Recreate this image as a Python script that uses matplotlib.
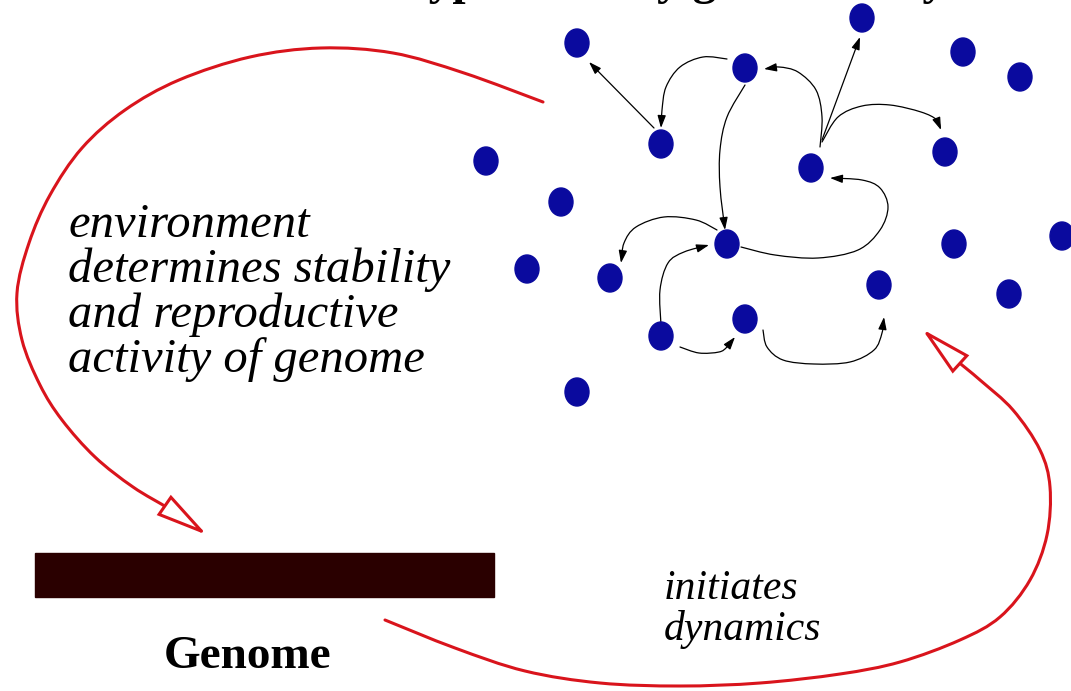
import matplotlib
matplotlib.use("Agg")
import matplotlib.pyplot as plt
import numpy as np
from matplotlib.patches import Ellipse, FancyArrowPatch, Rectangle
from matplotlib.path import Path

# gene nodes (pixel coordinates, y grows downward)
NODE_X = [577, 862, 963, 1020, 745, 661, 811, 945, 486, 561,
          727, 954, 1062, 527, 610, 879, 1009, 745, 661, 577]
NODE_Y = [43, 18, 52, 77, 68, 144, 168, 152, 161, 202,
          244, 244, 236, 269, 278, 285, 294, 319, 336, 392]

# regulatory links: waypoints from source to arrow tip
EDGE_6_1 = [(654, 128), (589, 62)]
EDGE_5_6 = [(727, 59), (703, 57), (680, 67), (666, 87), (662, 110), (661, 128)]
EDGE_7_5 = [(820, 147), (822, 117), (816, 90), (798, 72), (779, 67), (764, 69)]
EDGE_7_2 = [(822, 140), (860, 37)]
EDGE_7_8 = [(822, 142), (838, 117), (862, 106), (890, 105), (921, 112), (937, 120), (941, 130)]
EDGE_5_11 = [(745, 85), (727, 117), (720, 150), (720, 187), (725, 230)]
EDGE_11_15 = [(717, 230), (696, 220), (664, 217), (636, 227), (624, 243), (621, 263)]
EDGE_11_7 = [(741, 247), (775, 255), (818, 258), (858, 250), (880, 230), (888, 207),
             (880, 188), (862, 180), (830, 178)]
EDGE_19_11 = [(661, 325), (660, 290), (668, 263), (684, 252), (709, 245)]
EDGE_19_18 = [(680, 347), (699, 353), (719, 352), (727, 347), (735, 337)]
EDGE_18_16 = [(763, 330), (767, 347), (783, 360), (814, 364), (850, 362), (874, 350),
              (882, 333), (884, 317)]
EDGES = [EDGE_6_1, EDGE_5_6, EDGE_7_5, EDGE_7_2, EDGE_7_8, EDGE_5_11,
         EDGE_11_15, EDGE_11_7, EDGE_19_11, EDGE_19_18, EDGE_18_16]

# big red feedback arrows
ENV_ARROW = [(543, 102), (464, 73), (393, 53), (321, 48), (250, 57), (179, 80),
             (125, 110), (82, 148), (50, 195), (29, 243), (17, 293), (22, 340),
             (40, 385), (62, 420), (95, 457), (133, 487), (171, 510), (207, 535)]
DYN_ARROW = [(385, 620), (455, 648), (525, 671), (600, 683), (680, 686), (760, 683),
             (840, 674), (900, 662), (960, 640), (1000, 617), (1030, 580), (1047, 535),
             (1050, 487), (1040, 450), (1013, 410), (980, 380), (955, 359), (922, 329)]

GENOME_BAR = (35, 553, 459, 44)  # x, y, width, height

LEFT_LINES = ["environment", "determines stability", "and reproductive", "activity of genome"]
LEFT_BASELINES = [237, 282, 327, 372]
RIGHT_LINES = ["initiates", "dynamics"]
RIGHT_BASELINES = [599, 640]
TITLE = "Phenotype ruled by gene activity"

RED = "#d9141c"
BLUE = "#0a0a9e"


def smooth_path(points):
    pts = np.asarray(points, dtype=float)
    if len(pts) == 2:
        return Path(pts, [Path.MOVETO, Path.LINETO])
    padded = np.vstack([pts[0], pts, pts[-1]])
    verts = [pts[0]]
    codes = [Path.MOVETO]
    for i in range(len(pts) - 1):
        p0, p1, p2, p3 = padded[i], padded[i + 1], padded[i + 2], padded[i + 3]
        verts += [p1 + (p2 - p0) / 6, p2 - (p3 - p1) / 6, p2]
        codes += [Path.CURVE4] * 3
    return Path(verts, codes)


fig = plt.figure(figsize=(10.71, 6.91), dpi=100)
ax = fig.add_axes([0, 0, 1, 1])
ax.set_xlim(0, 1071)
ax.set_ylim(691, 0)
ax.axis("off")

for points in EDGES:
    ax.add_patch(FancyArrowPatch(
        path=smooth_path(points),
        arrowstyle="-|>,head_length=0.75,head_width=0.25",
        mutation_scale=10, lw=0.9, color="black", zorder=2,
    ))

for x, y in zip(NODE_X, NODE_Y):
    ax.add_patch(Ellipse((x, y), 24, 28, color=BLUE, zorder=3))

for points in (ENV_ARROW, DYN_ARROW):
    ax.add_patch(FancyArrowPatch(
        path=smooth_path(points),
        arrowstyle="-|>,head_length=3.2,head_width=0.75",
        mutation_scale=10, lw=2.2, edgecolor=RED, facecolor="white",
        joinstyle="miter", zorder=4,
    ))

bx, by, bw, bh = GENOME_BAR
ax.add_patch(Rectangle((bx, by), bw, bh, color="#2a0000", zorder=2))

serif = "Liberation Serif"
for line, base in zip(LEFT_LINES, LEFT_BASELINES):
    ax.text(68, base, line, family=serif, style="italic", fontsize=35,
            va="baseline", ha="left")
for line, base in zip(RIGHT_LINES, RIGHT_BASELINES):
    ax.text(664, base, line, family=serif, style="italic", fontsize=30,
            va="baseline", ha="left")
ax.text(248, 668, "Genome", family=serif, weight="bold", fontsize=34,
        va="baseline", ha="center")
# title sits above the frame, only its descenders show
ax.text(287, -6, TITLE, family=serif, weight="bold", fontsize=34,
        va="baseline", ha="left")

fig.savefig("out.png", dpi=100)
